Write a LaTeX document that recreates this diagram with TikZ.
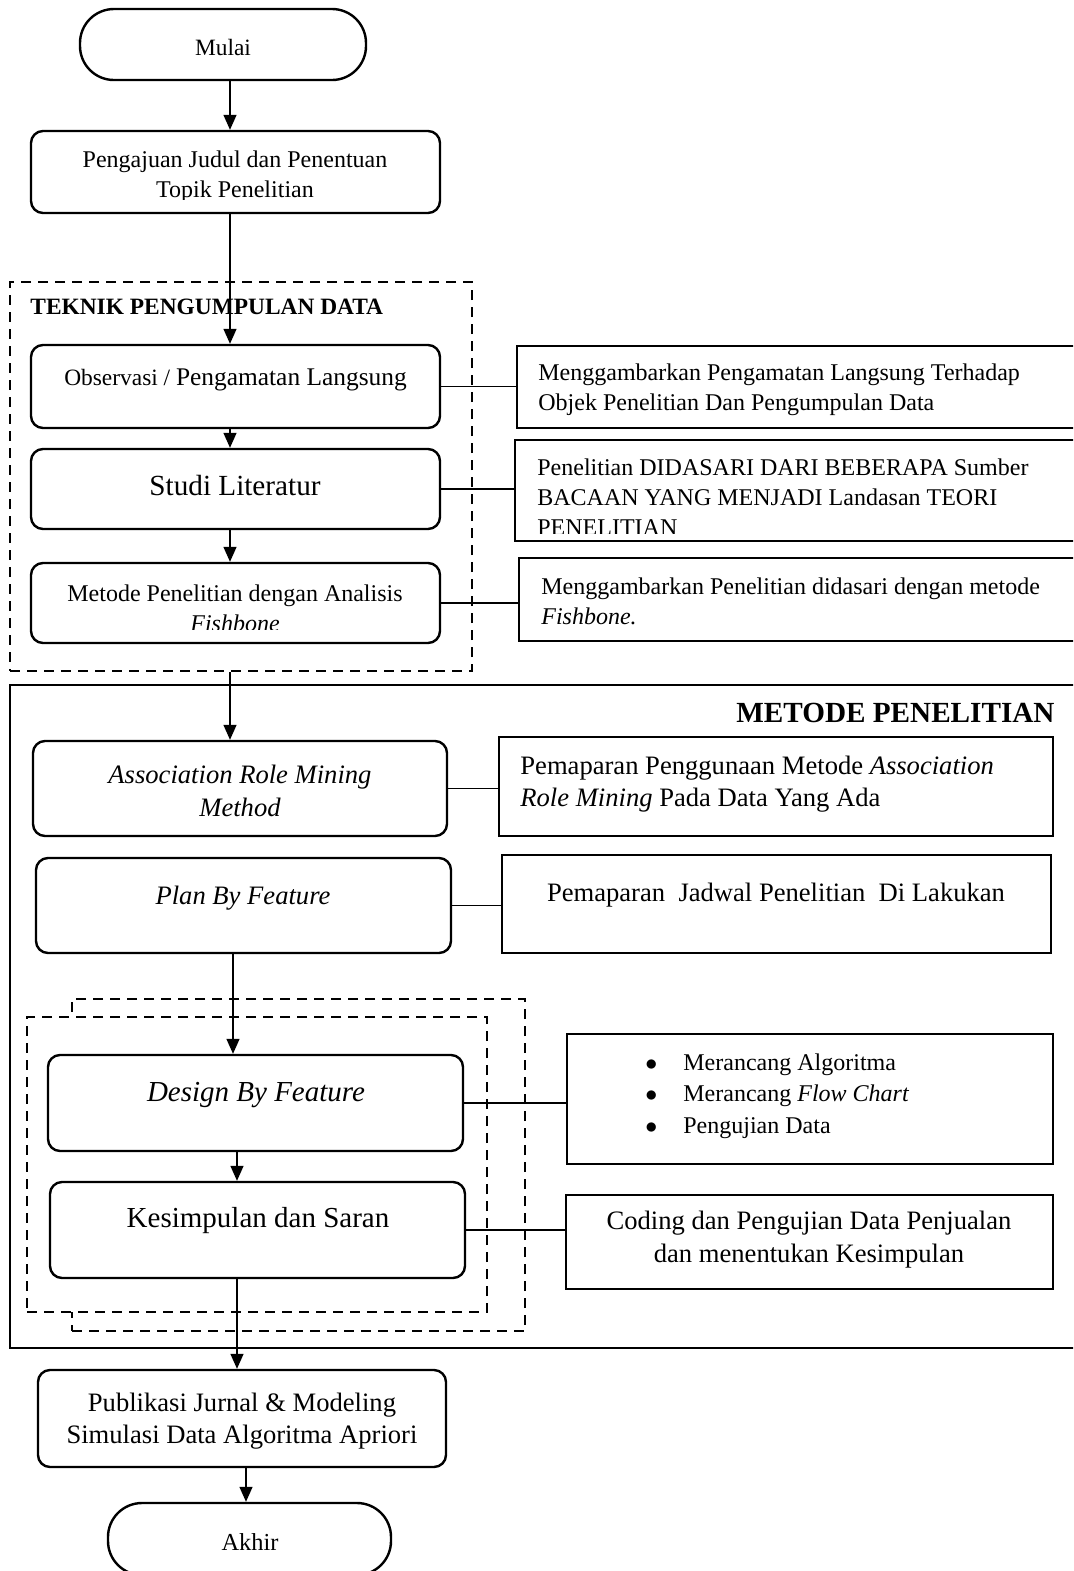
\documentclass[tikz,border=0pt]{standalone}
\usepackage{fontspec}
\setmainfont{Liberation Serif}
\usetikzlibrary{arrows.meta}
\newcommand\mkbox[6]{%
  \pgfmathsetmacro\bxw{(#5-#3)*0.5}\pgfmathsetmacro\bxh{(#6-#4)*0.5}%
  \node[#1, minimum width=\bxw pt, minimum height=\bxh pt] (#2) at ({(#3+#5)/2},{(#4+#6)/2}) {};}
\newcommand\blt{\makebox[19pt][l]{$\bullet$}}
\begin{document}
\begin{tikzpicture}[x=0.5pt,y=-0.5pt]
\tikzset{
  rbox/.style={draw, line width=1.2pt, rounded corners=6pt, inner sep=0pt, fill=white},
  sbox/.style={draw, line width=1.2pt, inner sep=0pt, fill=white},
  pill/.style={draw, line width=1.2pt, rounded corners=17pt, inner sep=0pt, fill=white},
  dbox/.style={draw, line width=1.4pt, dash pattern=on 5pt off 3.5pt, inner sep=0pt},
  fbox/.style={draw, line width=1.2pt, inner sep=0pt},
  txt/.style={inner sep=0pt, align=center},
  arr/.style={line width=0.7pt, -{Triangle[length=7.5pt,width=6.5pt]}},
  link/.style={line width=0.6pt},
}
\useasboundingbox (0,0) rectangle (1073,1571);
\clip (0,0) rectangle (1073,1571);

% column coordinates
\coordinate (c1) at (230,0);
\coordinate (c2) at (233,0);
\coordinate (c3) at (237,0);
\coordinate (c4) at (246,0);

% ---------- frames ----------
\mkbox{dbox}{tpd}{10}{282}{472}{671}
\node[txt, anchor=west, font=\fontsize{11.7}{14}\selectfont\bfseries] (tpdt) at (30,307) {TEKNIK PENGUMPULAN DATA};

\mkbox{fbox}{mp}{10}{685}{1090}{1348}
\node[txt, anchor=east, font=\fontsize{14.6}{17}\selectfont\bfseries] (mpt) at (1055,713) {METODE PENELITIAN};

\mkbox{dbox}{dout}{72}{999}{525}{1331}
\mkbox{dbox, fill=white}{din}{27}{1017}{487}{1312}

% ---------- main column ----------
\mkbox{pill}{mulai}{80}{9}{366}{80}
\node[txt, font=\fontsize{11.7}{14}\selectfont] (mulait) at (223,47) {Mulai};

\mkbox{rbox}{peng}{31}{131}{440}{213}
\begin{scope}
\clip (31,131) rectangle (440,199);
\node[txt, font=\fontsize{12}{15}\selectfont] (pengt) at (235,177) {Pengajuan Judul dan Penentuan\\Topik Penelitian};
\end{scope}

\mkbox{rbox}{obs}{31}{345}{440}{428}
\node[txt] (obst) at (235.5,380) {{\fontsize{11.7}{14}\selectfont Observasi / }{\fontsize{12.7}{15}\selectfont Pengamatan Langsung}};

\mkbox{rbox}{studi}{31}{449}{440}{529}
\node[txt, font=\fontsize{14.6}{17}\selectfont] (studit) at (235,485) {Studi Literatur};

\mkbox{rbox}{met}{31}{563}{440}{643}
\begin{scope}
\clip (31,563) rectangle (440,629);
\node[txt, font=\fontsize{12}{15}\selectfont] (mett) at (235,608) {Metode Penelitian dengan Analisis\\\textit{Fishbone}};
\end{scope}

\mkbox{rbox}{assoc}{33}{741}{447}{836}
\node[txt, font=\fontsize{13.3}{16.5}\selectfont\itshape] (assoct) at (240,791) {Association Role Mining\\Method};

\mkbox{rbox}{plan}{36}{858}{451}{953}
\node[txt, font=\fontsize{13.3}{16.5}\selectfont\itshape] (plant) at (243,898) {Plan By Feature};

\mkbox{rbox}{design}{48}{1055}{463}{1151}
\node[txt, font=\fontsize{14.5}{17}\selectfont\itshape] (designt) at (256,1095) {Design By Feature};

\mkbox{rbox}{kes}{50}{1182}{465}{1278}
\node[txt, font=\fontsize{14.5}{17}\selectfont] (kest) at (258,1221) {Kesimpulan dan Saran};

\mkbox{rbox}{pub}{38}{1370}{446}{1467}
\node[txt, font=\fontsize{13.3}{16}\selectfont] (pubt) at (242,1421) {Publikasi Jurnal \& Modeling\\Simulasi Data Algoritma Apriori};

\mkbox{pill}{akhir}{108}{1503}{391}{1575}
\node[txt, font=\fontsize{12.2}{14}\selectfont] (akhirt) at (250,1542) {Akhir};

% ---------- right column ----------
\mkbox{sbox}{r1}{517}{346}{1090}{428}
\node[txt, align=left, anchor=west, font=\fontsize{12}{15}\selectfont] (r1t) at (538,390) {Menggambarkan Pengamatan Langsung Terhadap\\Objek Penelitian Dan Pengumpulan Data};

\mkbox{sbox}{r2}{515}{440}{1090}{541}
\begin{scope}
\clip (515,440) rectangle (1090,533);
\node[txt, align=left, anchor=west, font=\fontsize{12}{15}\selectfont] (r2t) at (537,497) {Penelitian DIDASARI DARI BEBERAPA Sumber\\BACAAN YANG MENJADI Landasan TEORI\\PENELITIAN};
\end{scope}

\mkbox{sbox}{r3}{519}{558}{1090}{641}
\node[txt, align=left, anchor=west, font=\fontsize{12}{15}\selectfont] (r3t) at (541,601) {Menggambarkan Penelitian didasari dengan metode\\\textit{Fishbone.}};

\mkbox{sbox}{r4}{499}{737}{1053}{836}
\node[txt, align=left, anchor=west, font=\fontsize{13.3}{16}\selectfont] (r4t) at (520,784) {Pemaparan Penggunaan Metode \textit{Association}\\\textit{Role Mining} Pada Data Yang Ada};

\mkbox{sbox}{r5}{502}{855}{1051}{953}
\node[txt, font=\fontsize{13.3}{16}\selectfont] (r5t) at (776,895) {Pemaparan\ \ Jadwal Penelitian\ \ Di Lakukan};

\mkbox{sbox}{r6}{567}{1034}{1053}{1164}
\node[txt, align=left, anchor=west, font=\fontsize{12}{15.75}\selectfont] (r6t) at (645,1096) {\blt Merancang Algoritma\\\blt Merancang \textit{Flow Chart}\\\blt Pengujian Data};

\mkbox{sbox}{r7}{566}{1195}{1053}{1289}
\node[txt, font=\fontsize{13.3}{16.5}\selectfont] (r7t) at (809,1240) {Coding dan Pengujian Data Penjualan\\dan menentukan Kesimpulan};

% ---------- connectors ----------
\draw[arr] (mulai.south -| c1) -- (peng.north -| c1);
\draw[arr] (peng.south -| c1) -- (obs.north -| c1);
\draw[arr] (obs.south -| c1) -- (studi.north -| c1);
\draw[arr] (studi.south -| c1) -- (met.north -| c1);
\draw[arr] (tpd.south -| c1) -- (assoc.north -| c1);
\draw[arr] (plan.south -| c2) -- (design.north -| c2);
\draw[arr] (design.south -| c3) -- (kes.north -| c3);
\draw[arr] (kes.south -| c3) -- (pub.north -| c3);
\draw[arr] (pub.south -| c4) -- (akhir.north -| c4);

\draw[link] (obs.east) -- (obs.east -| r1.west);
\draw[link] (studi.east) -- (studi.east -| r2.west);
\draw[link] (met.east) -- (met.east -| r3.west);
\draw[link] (assoc.east) -- (assoc.east -| r4.west);
\draw[link] (plan.east) -- (plan.east -| r5.west);
\draw[link] (design.east) -- (design.east -| r6.west);
\draw[link] (kes.east) -- (kes.east -| r7.west);
\end{tikzpicture}
\end{document}
